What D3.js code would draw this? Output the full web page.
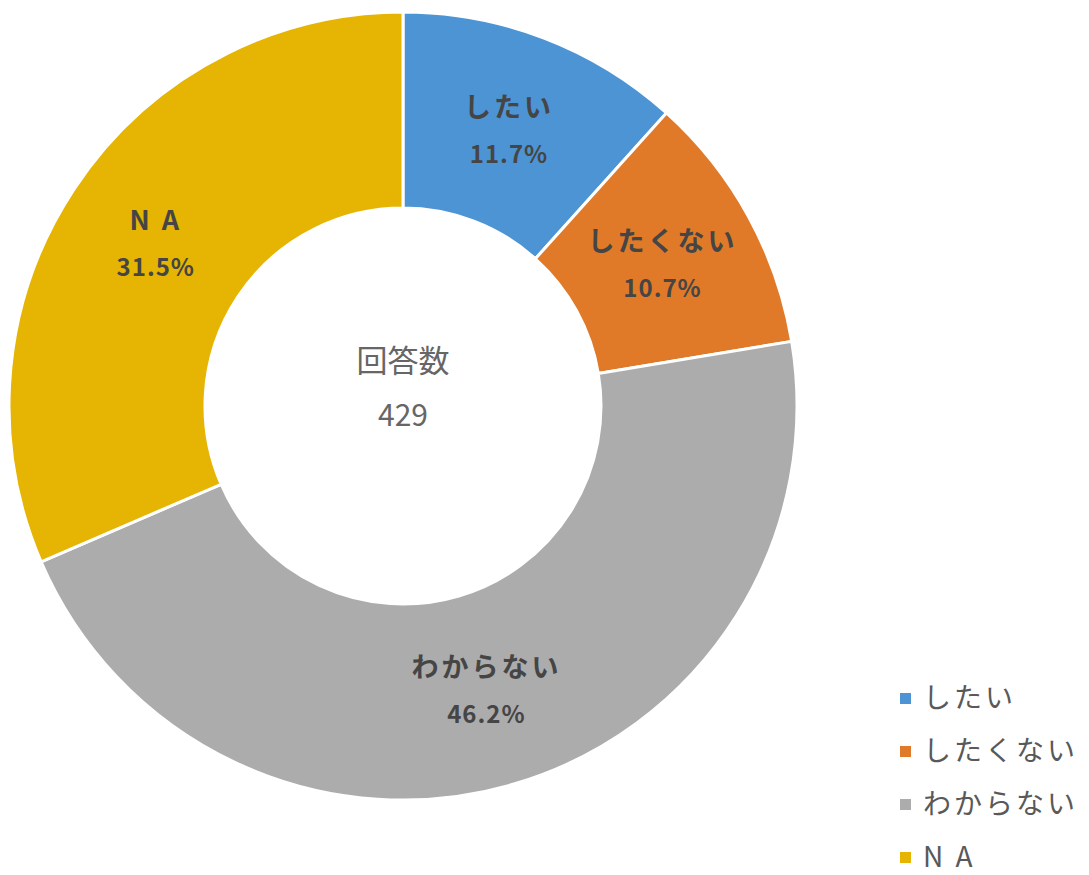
<!DOCTYPE html>
<html>
<head>
<meta charset="utf-8">
<script src="https://cdn.jsdelivr.net/npm/d3@7"></script>
<style>
  body { margin: 0; background: #fff; }
  svg text { font-family: "Noto Sans CJK JP", "Noto Sans", sans-serif; }
</style>
</head>
<body>
<svg id="chart" width="1089" height="875"></svg>
<script>
// answers out of 429
var categories = ["したい", "したくない", "わからない", "N A"];
var counts = [50, 46, 198, 135];
var percents = ["11.7%", "10.7%", "46.2%", "31.5%"];
var colors = ["#4d94d4", "#e07a29", "#acacac", "#e6b402"];
var total = 429;

var svg = d3.select("#chart");
var cx = 403, cy = 406,
    outerR = 394, innerR = 198;

var pie = d3.pie().sort(null).value(function(d) { return d; });
var arc = d3.arc().innerRadius(innerR).outerRadius(outerR);

var g = svg.append("g")
    .attr("transform", "translate(" + cx + "," + cy + ")");

var arcs = pie(counts);

g.selectAll("path")
    .data(arcs)
  .enter().append("path")
    .attr("d", arc)
    .attr("fill", function(d, i) { return colors[i]; })
    .attr("stroke", "#fff")
    .attr("stroke-width", 3);

// slice labels
var lab = g.selectAll(".lab")
    .data(arcs)
  .enter().append("g")
    .attr("class", "lab")
    .attr("transform", function(d) { return "translate(" + arc.centroid(d) + ")"; });

lab.append("text")
    .attr("text-anchor", "middle")
    .attr("y", -13)
    .attr("fill", "#454545")
    .attr("font-size", 27)
    .attr("font-weight", "bold")
    .attr("letter-spacing", 3)
    .text(function(d, i) { return categories[i]; });

lab.append("text")
    .attr("text-anchor", "middle")
    .attr("y", 33)
    .attr("fill", "#454545")
    .attr("font-size", 24)
    .attr("font-weight", "bold")
    .attr("letter-spacing", 1)
    .text(function(d, i) { return percents[i]; });

// center text
g.append("text")
    .attr("text-anchor", "middle")
    .attr("y", -34)
    .attr("fill", "#666")
    .attr("font-size", 31)
    .text("回答数");
g.append("text")
    .attr("text-anchor", "middle")
    .attr("y", 20)
    .attr("fill", "#666")
    .attr("font-size", 30)
    .text(total);

// legend
var legend = svg.append("g")
    .attr("transform", "translate(900,698)");

var item = legend.selectAll(".item")
    .data(categories)
  .enter().append("g")
    .attr("class", "item")
    .attr("transform", function(d, i) { return "translate(0," + (i * 53) + ")"; });

item.append("rect")
    .attr("x", 0).attr("y", -5)
    .attr("width", 11).attr("height", 11)
    .attr("fill", function(d, i) { return colors[i]; });

item.append("text")
    .attr("x", 23)
    .attr("y", 10)
    .attr("fill", "#595959")
    .attr("font-size", 28)
    .attr("letter-spacing", 3)
    .text(function(d) { return d; });
</script>
</body>
</html>
